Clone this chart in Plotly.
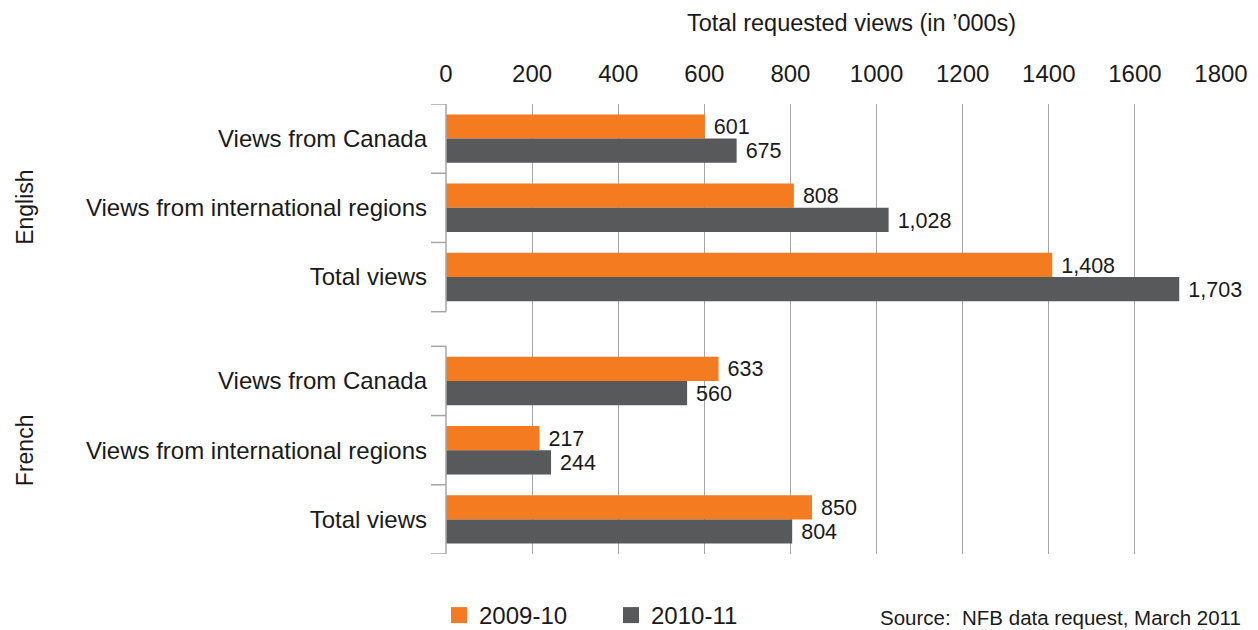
import plotly.graph_objects as go

# ---- data ----
groups = ["English", "French"]
categories = ["Views from Canada", "Views from international regions", "Total views"]
series_names = ["2009-10", "2010-11"]
english_2009 = [601, 808, 1408]
english_2010 = [675, 1028, 1703]
french_2009 = [633, 217, 850]
french_2010 = [560, 244, 804]
x_ticks = [0, 200, 400, 600, 800, 1000, 1200, 1400, 1600, 1800]
x_title = "Total requested views (in ’000s)"
source_text = "Source:  NFB data request, March 2011"

# ---- styling ----
ORANGE = "#F47B20"
GRAY = "#58595B"
LINE = "#A6A6A6"
FONT = "Liberation Sans, Arial, Helvetica, sans-serif"
TXT = "#1a1a1a"
BODY = 8  # default page margin of the html body
FIG_W, FIG_H = 1258 - BODY, 630 - BODY
PLOT_L, PLOT_T, PLOT_B = 446, 104, 554
PLOT_W, PLOT_H = 775, PLOT_B - PLOT_T
M_L, M_T = PLOT_L - BODY, PLOT_T - BODY
M_R = FIG_W - M_L - PLOT_W
M_B = FIG_H - M_T - PLOT_H


def px_x(p):
    return (p - PLOT_L) / PLOT_W


def px_y(p):
    return (PLOT_B - p) / PLOT_H


# positions: English 0,1,2 ; gap of half a category ; French 3.5,4.5,5.5
group_offset = [0.0, 3.5]
pos_en = [group_offset[0] + i for i in range(len(categories))]
pos_fr = [group_offset[1] + i for i in range(len(categories))]
ypos = pos_en + pos_fr
vals_2009 = english_2009 + french_2009
vals_2010 = english_2010 + french_2010

fig = go.Figure()
for name, vals, col in [(series_names[0], vals_2009, ORANGE), (series_names[1], vals_2010, GRAY)]:
    fig.add_trace(go.Bar(
        y=ypos, x=vals, orientation="h", name=name, legendgroup=name, showlegend=False,
        marker=dict(color=col, line=dict(width=0)),
        texttemplate=" %{x:,}", textposition="outside",
        textfont=dict(size=24, color=TXT, family=FONT),
        cliponaxis=False, hoverinfo="x+name",
    ))
# legend entries with large square swatches
for name, col in [(series_names[0], ORANGE), (series_names[1], GRAY)]:
    fig.add_trace(go.Scatter(
        x=[None], y=[None], mode="markers", name=name, legendgroup=name,
        marker=dict(symbol="square", size=22, color=col), hoverinfo="skip",
    ))

# y-axis lines with boundary ticks for each group
shapes = []
for off in group_offset:
    lo = off - 0.5
    hi = off + len(categories) - 0.5
    shapes.append(dict(type="line", xref="paper", yref="y", x0=0, x1=0, y0=lo, y1=hi,
                       line=dict(color=LINE, width=1.5), layer="above"))
    for k in range(len(categories) + 1):
        yb = lo + k
        shapes.append(dict(type="line", xref="paper", yref="y",
                           x0=-15 / PLOT_W, x1=0, y0=yb, y1=yb,
                           line=dict(color=LINE, width=1.5), layer="above"))

annotations = []
for g, off in zip(groups, group_offset):
    annotations.append(dict(text=g, xref="paper", yref="y", x=px_x(25), y=off + 1,
                            textangle=-90, showarrow=False, xanchor="center", yanchor="middle",
                            font=dict(size=23, color=TXT, family=FONT)))
annotations.append(dict(text=x_title, xref="paper", yref="paper", x=px_x(851), y=px_y(23),
                        xanchor="center", yanchor="middle", showarrow=False,
                        font=dict(size=23.5, color=TXT, family=FONT)))
annotations.append(dict(text=source_text, xref="paper", yref="paper",
                        x=px_x(1243), y=px_y(617), xanchor="right", yanchor="middle",
                        showarrow=False, font=dict(size=20.5, color=TXT, family=FONT)))

fig.update_layout(
    width=FIG_W, height=FIG_H,
    margin=dict(l=M_L, r=M_R, t=M_T, b=M_B, autoexpand=False),
    paper_bgcolor="white", plot_bgcolor="white",
    font=dict(family=FONT, size=24, color=TXT),
    barmode="group", bargap=0.3, bargroupgap=0,
    shapes=shapes, annotations=annotations,
    legend=dict(orientation="h", x=px_x(439), xanchor="left", y=px_y(615.5), yanchor="middle",
                font=dict(size=24, color=TXT, family=FONT), entrywidth=127, entrywidthmode="pixels",
                traceorder="normal", itemsizing="trace"),
    xaxis=dict(side="top", range=[0, 1800], tickvals=x_ticks, ticktext=[str(v) for v in x_ticks],
               showgrid=True, gridcolor=LINE, gridwidth=1, zeroline=False, showline=False,
               ticks="", ticklabelstandoff=16, tickfont=dict(size=24, color=TXT),
               automargin=False, fixedrange=True),
    yaxis=dict(range=[group_offset[1] + len(categories) - 0.5, -0.5],
               tickvals=ypos, ticktext=categories + categories,
               showgrid=False, zeroline=False, showline=False, ticks="",
               ticklabelstandoff=18, tickfont=dict(size=24, color=TXT),
               automargin=False, fixedrange=True),
)

fig.write_html("out.html")
